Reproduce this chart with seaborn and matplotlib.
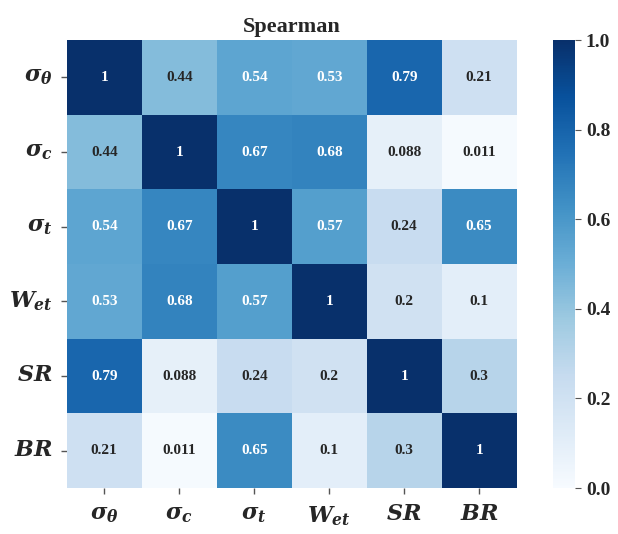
import numpy as np
import pandas as pd
import matplotlib.pyplot as plt
import seaborn as sns

labels = [r'$\sigma_\theta$', r'$\sigma_c$', r'$\sigma_t$', r'$W_{et}$', r'$SR$', r'$BR$']

row_s_theta = [1, 0.44, 0.54, 0.53, 0.79, 0.21]
row_s_c = [0.44, 1, 0.67, 0.68, 0.088, 0.011]
row_s_t = [0.54, 0.67, 1, 0.57, 0.24, 0.65]
row_w_et = [0.53, 0.68, 0.57, 1, 0.2, 0.1]
row_sr = [0.79, 0.088, 0.24, 0.2, 1, 0.3]
row_br = [0.21, 0.011, 0.65, 0.1, 0.3, 1]

corr = pd.DataFrame([row_s_theta, row_s_c, row_s_t, row_w_et, row_sr, row_br],
                    index=labels, columns=labels)

sns.set_style('white')
plt.rcParams['font.family'] = ['Liberation Serif', 'DejaVu Serif']
plt.rcParams['font.weight'] = 'bold'
plt.rcParams['mathtext.fontset'] = 'custom'
plt.rcParams['mathtext.it'] = 'DejaVu Serif:italic:bold'
plt.rcParams['mathtext.rm'] = 'DejaVu Serif:bold'

fig = plt.figure(figsize=[6.18, 5.34], dpi=100)
ax = fig.add_axes([0.108, 0.086, 0.728, 0.839])
cax = fig.add_axes([0.895, 0.086, 0.036, 0.839])

sns.heatmap(corr, ax=ax, cbar_ax=cax, cmap='Blues', vmin=0, vmax=1, annot=True,
            annot_kws={'fontsize': 11, 'fontweight': 'bold'})

ax.set_title('Spearman', fontsize=16, fontweight='bold', pad=6)
ax.tick_params(axis='both', length=4, width=1, color='#555555', left=True, bottom=True)
ax.set_xticklabels(labels, fontsize=16, rotation=0)
ax.set_yticklabels(labels, fontsize=16, rotation=0)
ax.tick_params(axis='x', pad=8)
ax.tick_params(axis='y', pad=6)

cax.tick_params(labelsize=14, length=4, color='#555555')
cax.set_yticks([0, 0.2, 0.4, 0.6, 0.8, 1.0])
cax.set_yticklabels(['0.0', '0.2', '0.4', '0.6', '0.8', '1.0'], fontweight='bold')

plt.savefig('out.png', dpi=100)
